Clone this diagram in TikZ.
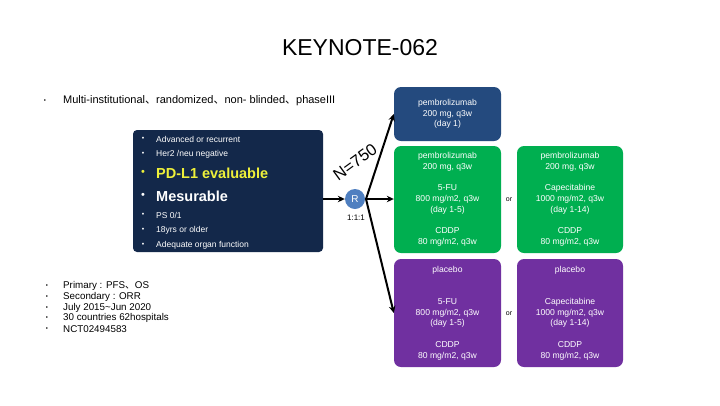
\documentclass[tikz,border=0pt]{standalone}
\usepackage{fontspec}
\setmainfont{Liberation Sans}
\newfontfamily\cjk{Noto Sans CJK SC}
\usetikzlibrary{arrows.meta}
\definecolor{navybox}{HTML}{13284A}
\definecolor{topblue}{HTML}{244A7E}
\definecolor{rblue}{HTML}{4F7FC0}
\definecolor{armgreen}{HTML}{00AF50}
\definecolor{armpurple}{HTML}{7030A0}
\definecolor{pdyellow}{HTML}{EEF03A}
\begin{document}
\begin{tikzpicture}[x=1pt,y=-1pt,
  armbox/.style={rounded corners=7pt, minimum width=107pt, inner sep=0pt, text=white, align=center,
    font=\fontsize{8.6}{10.75}\selectfont},
  incl/.style={anchor=west, text=white, inner sep=0pt, font=\fontsize{8.5}{9}\selectfont},
  inbul/.style={text=white, inner sep=0pt, font=\fontsize{7}{9}\selectfont},
  outl/.style={anchor=west, inner sep=0pt, font=\fontsize{9.8}{10}\selectfont},
  outbul/.style={inner sep=0pt, font=\fontsize{6}{8}\selectfont},
  arr/.style={line width=2pt, -{Stealth[length=7pt,width=6.5pt]}},
  orlab/.style={inner sep=0pt, font=\fontsize{7}{8}\selectfont}
]
\path[use as bounding box, fill=white] (0,0) rectangle (720,405);

\node (title) at (360,48) {\fontsize{23}{26}\selectfont KEYNOTE-062};

\node[outbul] (b0) at (45,101) {\textbullet};
\node[outl, font=\fontsize{11}{12}\selectfont] (t0) at (63,101) {Multi-institutional{\cjk 、}randomized{\cjk 、}non- blinded{\cjk 、}phaseIII};

% inclusion box
\node[fill=navybox, rounded corners=4pt, minimum width=190pt, minimum height=122pt, inner sep=0pt] (incbox) at (228,191) {};
\node[inbul] (ib1) at (143,139) {\textbullet};
\node[incl] (i1) at (156,139) {Advanced or recurrent};
\node[inbul] (ib2) at (143,154) {\textbullet};
\node[incl] (i2) at (156,154) {Her2 /neu negative};
\node[inbul, text=pdyellow, font=\fontsize{11}{12}\selectfont] (ib3) at (143,173) {\textbullet};
\node[incl, text=pdyellow, font=\fontsize{14.5}{16}\selectfont\bfseries] (i3) at (156,173) {PD-L1 evaluable};
\node[inbul, font=\fontsize{11}{12}\selectfont] (ib4) at (143,196) {\textbullet};
\node[incl, font=\fontsize{14.5}{16}\selectfont\bfseries] (i4) at (156,196) {Mesurable};
\node[inbul] (ib5) at (143,215) {\textbullet};
\node[incl] (i5) at (156,215) {PS 0/1};
\node[inbul] (ib6) at (143,230) {\textbullet};
\node[incl] (i6) at (156,230) {18yrs or older};
\node[inbul] (ib7) at (143,245) {\textbullet};
\node[incl] (i7) at (156,245) {Adequate organ function};

% randomisation
\node[circle, fill=rblue, minimum size=20pt, inner sep=0pt, text=white, font=\fontsize{10}{12}\selectfont] (R) at (355,199) {R};
\node[inner sep=0pt, font=\fontsize{8}{10}\selectfont] (ratio) at (356,218) {1:1:1};
\node[rotate=36, inner sep=0pt, font=\fontsize{16.5}{18}\selectfont] (N) at (355,162) {N=750};
\coordinate (hub) at (366,199);

% arms
\node[armbox, fill=topblue, minimum height=54pt] (armA) at (447.5,114) {pembrolizumab\\200 mg, q3w\\(day 1)};
\node[armbox, fill=armgreen, minimum height=107pt] (armB1) at (447.5,199.5) {pembrolizumab\\200 mg, q3w\\[10.75pt]5-FU\\800 mg/m2, q3w\\(day 1-5)\\[10.75pt]CDDP\\80 mg/m2, q3w};
\node[armbox, fill=armgreen, minimum height=107pt, minimum width=106pt] (armB2) at (570,199.5) {pembrolizumab\\200 mg, q3w\\[10.75pt]Capecitabine\\1000 mg/m2, q3w\\(day 1-14)\\[10.75pt]CDDP\\80 mg/m2, q3w};
\node[armbox, fill=armpurple, minimum height=108pt] (armC1) at (447.5,313) {placebo\\[21.5pt]5-FU\\800 mg/m2, q3w\\(day 1-5)\\[10.75pt]CDDP\\80 mg/m2, q3w};
\node[armbox, fill=armpurple, minimum height=108pt, minimum width=106pt] (armC2) at (570,313) {placebo\\[21.5pt]Capecitabine\\1000 mg/m2, q3w\\(day 1-14)\\[10.75pt]CDDP\\80 mg/m2, q3w};
\node[orlab] (or1) at (509,200) {or};
\node[orlab] (or2) at (509,314) {or};

% connectors
\draw[arr] (incbox.east |- R.west) -- (R.west);
\draw[arr] (hub) -- (armA.west);
\draw[arr] (hub) -- (armB1.west |- hub);
\draw[arr] (hub) -- (armC1.west);

% bottom list
\node[outbul] (c1b) at (47,286) {\textbullet};
\node[outl] (c1) at (63,286) {Primary : PFS{\cjk 、}OS};
\node[outbul] (c2b) at (47,297) {\textbullet};
\node[outl] (c2) at (63,297) {Secondary : ORR};
\node[outbul] (c3b) at (47,308) {\textbullet};
\node[outl] (c3) at (63,308) {July 2015\textasciitilde Jun 2020};
\node[outbul] (c4b) at (47,318) {\textbullet};
\node[outl] (c4) at (63,318) {30 countries 62hospitals};
\node[outbul] (c5b) at (47,329) {\textbullet};
\node[outl] (c5) at (63,329) {NCT02494583};
\end{tikzpicture}
\end{document}
